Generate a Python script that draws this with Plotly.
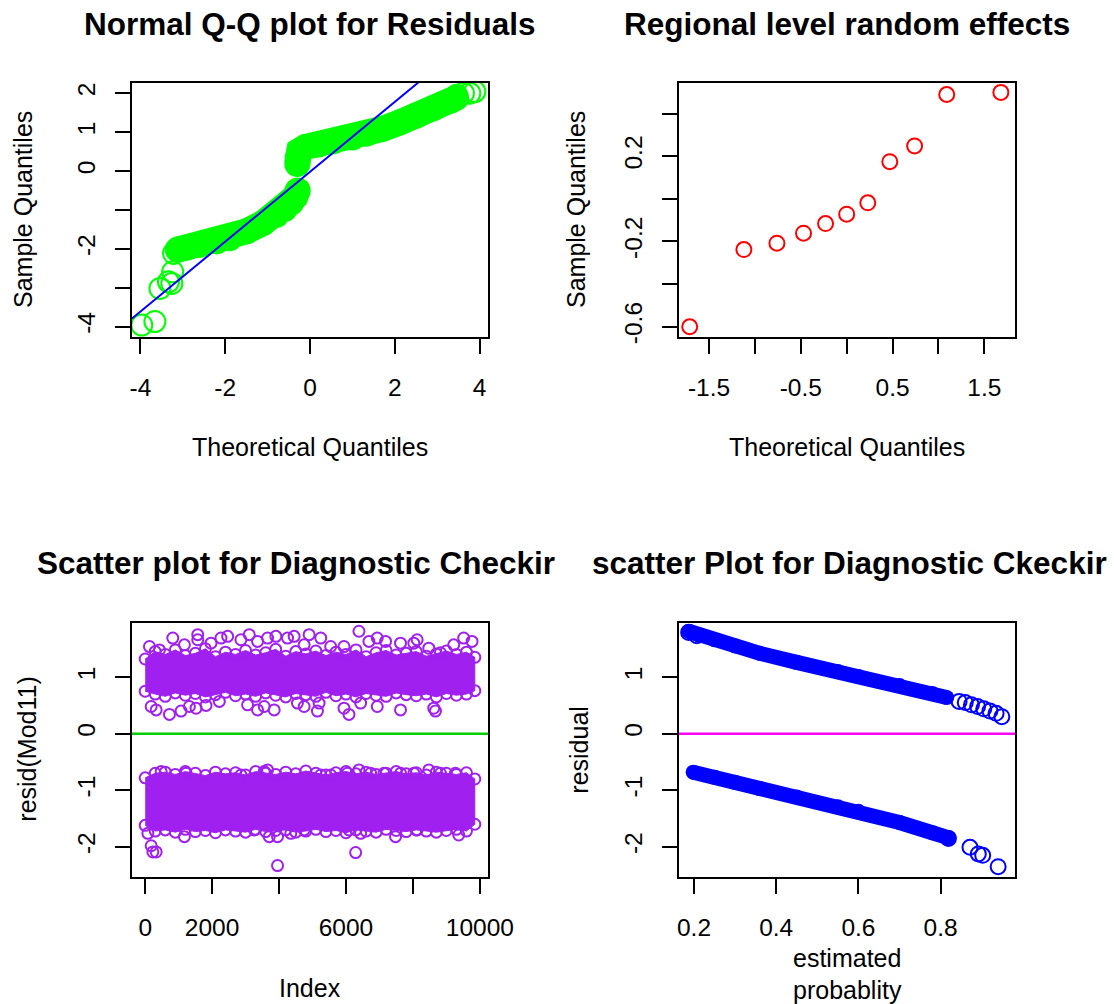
import plotly.graph_objects as go

# ---------------- data ----------------
# Panel 1: Normal Q-Q plot for residuals (dense band traced as centre lines + isolated circles)
qq_low_theo = [-3.12, -2.9, -2.6, -2.2, -1.9, -1.5, -1.1, -0.8, -0.6, -0.45, -0.35, -0.29]
qq_low_samp = [-2.02, -1.97, -1.90, -1.81, -1.73, -1.55, -1.33, -1.13, -0.98, -0.82, -0.66, -0.50]
qq_up_theo = [-0.30, -0.29, -0.25, -0.1, 0.2, 0.55, 1.0, 1.34, 1.7, 2.12, 2.5, 2.91, 3.3, 3.45]
qq_up_samp = [0.18, 0.35, 0.52, 0.62, 0.68, 0.76, 0.86, 0.96, 1.08, 1.25, 1.42, 1.61, 1.80, 1.88]
qq_out_theo = [-3.97, -3.66, -3.54, -3.34, -3.26, -3.24, -3.22, -3.14, 3.46, 3.62, 3.77, 3.89]
qq_out_samp = [-3.96, -3.87, -3.02, -2.85, -2.89, -2.59, -2.12, -2.03, 1.95, 2.00, 2.00, 2.04]
qqline_intercept = -0.02
qqline_slope = 0.898

# Panel 2: Regional level random effects
re_theo = [-1.71, -1.12, -0.76, -0.47, -0.23, 0.0, 0.23, 0.47, 0.74, 1.09, 1.68]
re_samp = [-0.600, -0.238, -0.208, -0.161, -0.116, -0.072, -0.019, 0.174, 0.248, 0.489, 0.499]

# Panel 3: resid(Mod11) vs Index -- dense clouds as edge circles (filled between) + scattered points
edge_idx = [0, 300, 600, 900, 1200, 1500, 1800, 2100, 2400, 2700, 3000, 3300, 3600, 3900,
            4200, 4500, 4800, 5100, 5400, 5700, 6000, 6300, 6600, 6900, 7200, 7500, 7800,
            8100, 8400, 8700, 9000, 9300, 9600, 9850]
up_edge_top = [1.32, 1.45, 1.40, 1.48, 1.38, 1.42, 1.50, 1.36, 1.44, 1.40, 1.47, 1.39, 1.43, 1.49,
               1.37, 1.45, 1.41, 1.46, 1.38, 1.44, 1.40, 1.48, 1.36, 1.43, 1.47, 1.39, 1.42,
               1.45, 1.37, 1.41, 1.46, 1.40, 1.44, 1.35]
up_edge_bot = [0.75, 0.70, 0.66, 0.72, 0.68, 0.71, 0.65, 0.69, 0.73, 0.67, 0.70, 0.66, 0.72, 0.68,
               0.65, 0.71, 0.69, 0.66, 0.73, 0.67, 0.70, 0.65, 0.71, 0.68, 0.66, 0.72, 0.69,
               0.67, 0.70, 0.65, 0.71, 0.68, 0.70, 0.76]
lo_edge_top = [-0.78, -0.70, -0.68, -0.72, -0.67, -0.70, -0.74, -0.68, -0.71, -0.69, -0.73, -0.67,
               -0.70, -0.72, -0.68, -0.71, -0.66, -0.70, -0.73, -0.69, -0.67, -0.71, -0.68, -0.72,
               -0.70, -0.67, -0.71, -0.69, -0.73, -0.68, -0.70, -0.72, -0.69, -0.80]
lo_edge_bot = [-1.62, -1.72, -1.70, -1.74, -1.69, -1.73, -1.71, -1.75, -1.70, -1.72, -1.74, -1.69,
               -1.73, -1.71, -1.70, -1.74, -1.72, -1.69, -1.73, -1.71, -1.75, -1.70, -1.72, -1.74,
               -1.69, -1.71, -1.73, -1.70, -1.72, -1.74, -1.71, -1.69, -1.72, -1.60]
res_pts_idx = [128, 427, 825, 1172, 1570, 1570, 1967, 2265, 2464, 2861, 3110, 3358, 3657,
               3905, 4253, 4451, 4750, 4899, 5246, 5544, 5941, 6388, 6686, 6935, 7183,
               7630, 8028, 8127, 8475, 8823, 9220, 9518, 9767,
               179, 328, 725, 1073, 1321, 1520, 1818, 2216, 3060, 3358, 3557, 3855,
               4550, 4750, 5147, 5197, 5941, 6090, 6438, 6935, 7630, 8623, 8674,
               477, 1222, 2861, 3110, 3557, 3657, 5246, 5544, 6041, 6388, 6736, 7134,
               7630, 8028, 8475, 8823, 9270,
               80, 1172, 3259, 3707, 3955, 4352, 4750, 6090, 6438, 7481, 8127, 9369,
               179, 229, 328, 6289, 3955]
res_pts_val = [1.54, 1.48, 1.69, 1.57, 1.75, 1.66, 1.60, 1.69, 1.72, 1.66, 1.75, 1.63, 1.69,
               1.72, 1.69, 1.72, 1.57, 1.75, 1.69, 1.54, 1.54, 1.81, 1.63, 1.69, 1.63,
               1.60, 1.60, 1.66, 1.51, 1.43, 1.57, 1.69, 1.63,
               0.48, 0.42, 0.34, 0.40, 0.48, 0.45, 0.50, 0.57, 0.51, 0.42, 0.48, 0.42,
               0.54, 0.48, 0.40, 0.54, 0.45, 0.34, 0.54, 0.48, 0.42, 0.45, 0.40,
               -0.67, -0.70, -0.73, -0.82, -0.67, -0.64, -0.73, -0.73, -0.70, -0.64, -0.70, -0.70,
               -0.70, -0.70, -0.64, -0.70, -0.70,
               -1.76, -1.82, -1.70, -1.82, -1.82, -1.76, -1.70, -1.70, -1.76, -1.82, -1.70, -1.79,
               -1.98, -2.09, -2.09, -2.10, -2.33]
hline_y = 0

# Panel 4: residual vs estimated probability (bands traced as centre lines + isolated circles)
up_band_p = [0.187, 0.21, 0.25, 0.30, 0.36, 0.45, 0.55, 0.60, 0.70, 0.78, 0.815]
up_band_r = [1.81, 1.75, 1.66, 1.55, 1.42, 1.26, 1.10, 1.01, 0.85, 0.71, 0.64]
lo_band_p = [0.198, 0.25, 0.30, 0.36, 0.45, 0.55, 0.60, 0.70, 0.78, 0.82]
lo_band_r = [-0.68, -0.77, -0.86, -0.97, -1.12, -1.29, -1.37, -1.57, -1.75, -1.84]
tail_p = [0.187, 0.207, 0.845, 0.86, 0.875, 0.89, 0.905, 0.92, 0.935, 0.949,
          0.819, 0.8715, 0.8917, 0.9024, 0.940]
tail_r = [1.79, 1.73, 0.57, 0.55, 0.51, 0.48, 0.44, 0.40, 0.36, 0.30,
          -1.85, -2.007, -2.125, -2.15, -2.35]

# tick definitions
p1_xt = [-4, -2, 0, 2, 4]; p1_xl = ["-4", "-2", "0", "2", "4"]
p1_yt = [-4, -3, -2, -1, 0, 1, 2]; p1_yl = ["-4", "", "-2", "", "0", "1", "2"]
p2_xt = [-1.5, -1, -0.5, 0, 0.5, 1, 1.5]; p2_xl = ["-1.5", "", "-0.5", "", "0.5", "", "1.5"]
p2_yt = [-0.6, -0.4, -0.2, 0, 0.2, 0.4]; p2_yl = ["-0.6", "", "-0.2", "", "0.2", ""]
p3_xt = [0, 2000, 4000, 6000, 8000, 10000]; p3_xl = ["0", "2000", "", "6000", "", "10000"]
p34_yt = [-2, -1, 0, 1]; p34_yl = ["-2", "-1", "0", "1"]
p4_xt = [0.2, 0.4, 0.6, 0.8]; p4_xl = ["0.2", "0.4", "0.6", "0.8"]

# ---------------- layout geometry (pixels) ----------------
W, H = 1114, 1004
FONT = "Arial, Liberation Sans, sans-serif"
L1, R1, L2, R2 = 132, 488, 679, 1015
T1, B1, T2, B2 = 83, 337, 622.7, 876.7


def fx(p):
    return p / W


def fy(p):
    return 1 - p / H


fig = go.Figure()

GREEN = "#00FF00"
# Panel 1
for xs, ys in ((qq_low_theo, qq_low_samp), (qq_up_theo, qq_up_samp)):
    fig.add_trace(go.Scatter(x=xs, y=ys, mode="lines+markers", xaxis="x", yaxis="y",
                             line=dict(color=GREEN, width=26),
                             marker=dict(color=GREEN, size=26, symbol="circle")))
fig.add_trace(go.Scatter(x=qq_out_theo, y=qq_out_samp, mode="markers", xaxis="x", yaxis="y",
                         marker=dict(symbol="circle-open", size=21, color=GREEN,
                                     line=dict(color=GREEN, width=2))))
qx = [-4.2, 4.2]
fig.add_trace(go.Scatter(x=qx, y=[qqline_intercept + qqline_slope * v for v in qx],
                         mode="lines", xaxis="x", yaxis="y",
                         line=dict(color="#0000FF", width=2)))

# Panel 2
fig.add_trace(go.Scatter(x=re_theo, y=re_samp, mode="markers", xaxis="x2", yaxis="y2",
                         marker=dict(symbol="circle-open", size=15, color="#FF0000",
                                     line=dict(color="#FF0000", width=2))))

# Panel 3
PURPLE = "#A020F0"
for top, bot in ((up_edge_top, up_edge_bot), (lo_edge_top, lo_edge_bot)):
    fig.add_trace(go.Scatter(x=edge_idx + edge_idx[::-1], y=top + bot[::-1],
                             mode="lines+markers", fill="toself", fillcolor=PURPLE,
                             xaxis="x3", yaxis="y3", line=dict(color=PURPLE, width=1),
                             marker=dict(symbol="circle-open", size=11, color=PURPLE,
                                         line=dict(color=PURPLE, width=2))))
fig.add_trace(go.Scatter(x=res_pts_idx, y=res_pts_val, mode="markers", xaxis="x3", yaxis="y3",
                         marker=dict(symbol="circle-open", size=11, color=PURPLE,
                                     line=dict(color=PURPLE, width=2))))

# Panel 4
BLUE = "#0000FF"
for xs, ys in ((up_band_p, up_band_r), (lo_band_p, lo_band_r)):
    fig.add_trace(go.Scatter(x=xs, y=ys, mode="lines+markers", xaxis="x4", yaxis="y4",
                             line=dict(color=BLUE, width=15),
                             marker=dict(color=BLUE, size=15, symbol="circle")))
fig.add_trace(go.Scatter(x=tail_p, y=tail_r, mode="markers", xaxis="x4", yaxis="y4",
                         marker=dict(symbol="circle-open", size=15, color=BLUE,
                                     line=dict(color=BLUE, width=2))))


def axis(domain, rng, tv, tt, anchor, is_y):
    d = dict(domain=domain, range=rng, anchor=anchor, tickmode="array", tickvals=tv, ticktext=tt,
             showline=True, mirror=True, linecolor="black", linewidth=2,
             ticks="outside", ticklen=15, tickwidth=2, tickcolor="black",
             showgrid=False, zeroline=False, fixedrange=True, automargin=False,
             tickfont=dict(family=FONT, size=24.5, color="black"))
    if is_y:
        d["tickangle"] = -90
        d["ticklabelstandoff"] = 10
    else:
        d["ticklabelstandoff"] = 13
    return d


xd1 = [fx(L1), fx(R1)]
xd2 = [fx(L2), fx(R2)]
yd1 = [fy(B1), fy(T1)]
yd2 = [fy(B2), fy(T2)]

fig.update_layout(
    width=W, height=H, autosize=False, margin=dict(l=0, r=0, t=0, b=0, pad=0),
    paper_bgcolor="white", plot_bgcolor="white", showlegend=False,
    font=dict(family=FONT, color="black"),
    xaxis=axis(xd1, [-4.2, 4.2], p1_xt, p1_xl, "y", False),
    yaxis=axis(yd1, [-4.267, 2.262], p1_yt, p1_yl, "x", True),
    xaxis2=axis(xd2, [-1.827, 1.834], p2_xt, p2_xl, "y2", False),
    yaxis2=axis(yd1, [-0.648, 0.543], p2_yt, p2_yl, "x2", True),
    xaxis3=axis(xd1, [-394, 10244], p3_xt, p3_xl, "y3", False),
    yaxis3=axis(yd2, [-2.527, 1.961], p34_yt, p34_yl, "x3", True),
    xaxis4=axis(xd2, [0.1635, 0.981], p4_xt, p4_xl, "y4", False),
    yaxis4=axis(yd2, [-2.527, 1.961], p34_yt, p34_yl, "x4", True),
)

fig.add_shape(type="line", xref="x3 domain", yref="y3", x0=0, x1=1, y0=hline_y, y1=hline_y,
              line=dict(color="#00CD00", width=2.5))
fig.add_shape(type="line", xref="x4 domain", yref="y4", x0=0, x1=1, y0=hline_y, y1=hline_y,
              line=dict(color="#FF00FF", width=2.5))


def ann(text, x, y, size=25, bold=False, angle=0, xanchor="center"):
    t = "<b>%s</b>" % text if bold else text
    fig.add_annotation(text=t, x=fx(x), y=fy(y), xref="paper", yref="paper",
                       xanchor=xanchor, yanchor="middle", showarrow=False, textangle=angle,
                       font=dict(family=FONT, size=size, color="black"))


TS = 31.5
ann("Normal Q-Q plot for Residuals", (L1 + R1) / 2, 24, TS, True)
ann("Regional level random effects", (L2 + R2) / 2, 24, TS, True)
ann("Scatter plot for Diagnostic Checkir", 35, 563, TS, True, xanchor="left")
ann("scatter Plot for Diagnostic Ckeckir", 590, 563, TS, True, xanchor="left")

ann("Theoretical Quantiles", (L1 + R1) / 2, 447)
ann("Theoretical Quantiles", (L2 + R2) / 2, 447)
ann("Sample Quantiles", 23, (T1 + B1) / 2, angle=-90)
ann("Sample Quantiles", 576, (T1 + B1) / 2, angle=-90)
ann("Index", (L1 + R1) / 2, 988)
ann("resid(Mod11)", 27, (T2 + B2) / 2, angle=-90)
ann("residual", 579, (T2 + B2) / 2, angle=-90)
ann("estimated", (L2 + R2) / 2, 958)
ann("probablity", (L2 + R2) / 2, 990)

fig.write_html("out.html", config={"responsive": False, "displayModeBar": False})

with open("out.html", "r", encoding="utf-8") as f:
    html = f.read()
html = html.replace("<head>", "<head><style>html,body{margin:0;padding:0;overflow:hidden;}</style>", 1)
with open("out.html", "w", encoding="utf-8") as f:
    f.write(html)
